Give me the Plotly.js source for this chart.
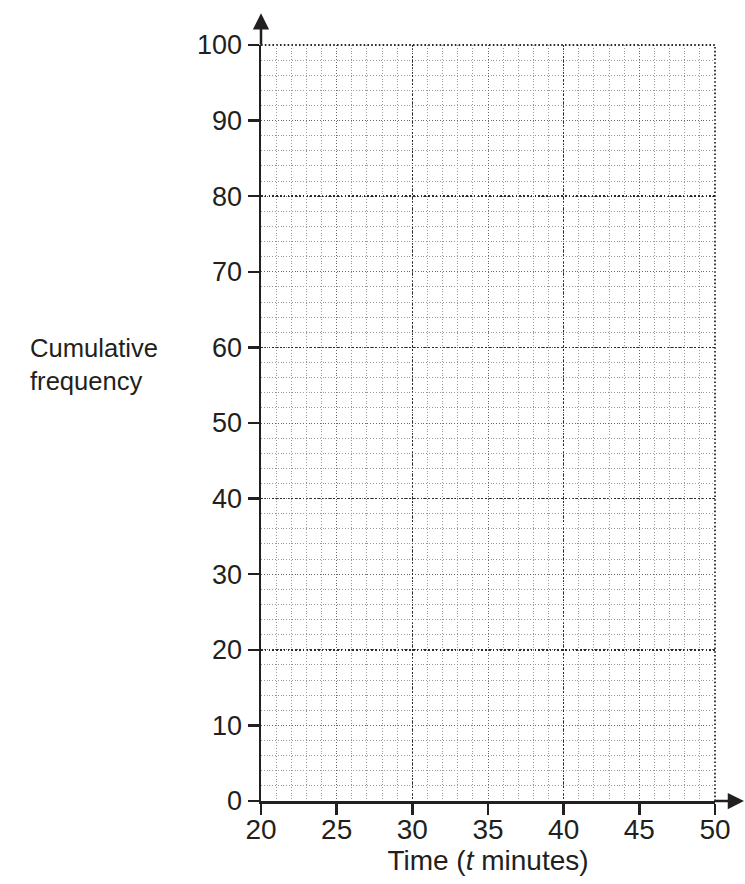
<!DOCTYPE html>
<html>
<head>
<meta charset="utf-8">
<script src="https://cdn.plot.ly/plotly-3.0.1.min.js"></script>
<style>html,body{margin:0;padding:0;background:#fff;}#chart{width:745px;height:884px;}</style>
</head>
<body>
<div id="chart"></div>
<script>
// Axis ranges and tick labels
const xRange = [20, 50];
const yRange = [0, 100];
const xTickVals = [20, 25, 30, 35, 40, 45, 50];
const yTickVals = [0, 10, 20, 30, 40, 50, 60, 70, 80, 90, 100];
const xMajorGrid = [20, 30, 40, 50];
const yMajorGrid = [0, 20, 40, 60, 80, 100];
const xMinorStep = 1;
const yMinorStep = 2;
const xTitle = 'Time (<i>t</i> minutes)';
const yTitleLines = ['Cumulative', 'frequency'];

const ink = '#231f20';
const fontFam = '"Liberation Sans", Arial, Helvetica, sans-serif';

const traces = [
  {x: [], y: [], type: 'scatter', mode: 'markers', xaxis: 'x', yaxis: 'y', showlegend: false, hoverinfo: 'skip'},
  {x: [], y: [], type: 'scatter', mode: 'markers', xaxis: 'x2', yaxis: 'y2', showlegend: false, hoverinfo: 'skip'}
];

const majorDash = '1.6px,2.2px';
const layout = {
  width: 745, height: 884,
  margin: {l: 261, r: 30, t: 45, b: 83, pad: 0},
  paper_bgcolor: '#fff', plot_bgcolor: '#fff',
  font: {family: fontFam, size: 27, color: ink},
  showlegend: false,
  xaxis: {
    range: xRange, tickmode: 'array', tickvals: xTickVals,
    ticks: 'outside', ticklen: 11, tickwidth: 2.5, tickcolor: ink,
    ticklabelstandoff: -9,
    showline: true, linewidth: 2.5, linecolor: ink, zeroline: false,
    showgrid: true, gridcolor: '#666', gridwidth: 1, griddash: '1px,1.8px',
    minor: {dtick: xMinorStep, tick0: xRange[0], showgrid: true, gridcolor: '#999', gridwidth: 1, griddash: '1px,1.8px', ticks: ''},
    tickfont: {size: 28, color: ink, family: fontFam},
    title: {text: xTitle, font: {size: 28, color: ink, family: fontFam}, standoff: 1},
    fixedrange: true
  },
  yaxis: {
    range: yRange, tickmode: 'array', tickvals: yTickVals,
    ticks: 'outside', ticklen: 11, tickwidth: 2.5, tickcolor: ink,
    showline: true, linewidth: 2.5, linecolor: ink, zeroline: false,
    showgrid: true, gridcolor: '#666', gridwidth: 1, griddash: '1px,1.8px',
    minor: {dtick: yMinorStep, tick0: yRange[0], showgrid: true, gridcolor: '#999', gridwidth: 1, griddash: '1px,1.8px', ticks: ''},
    tickfont: {size: 27, color: ink, family: fontFam},
    fixedrange: true
  },
  xaxis2: {
    range: xRange, overlaying: 'x', anchor: 'y', tickmode: 'array', tickvals: xMajorGrid,
    showticklabels: false, ticks: '', showline: false, zeroline: false,
    showgrid: true, gridcolor: '#2a2a2a', gridwidth: 1.6, griddash: majorDash, fixedrange: true
  },
  yaxis2: {
    range: yRange, overlaying: 'y', anchor: 'x', tickmode: 'array', tickvals: yMajorGrid,
    showticklabels: false, ticks: '', showline: false, zeroline: false,
    showgrid: true, gridcolor: '#2a2a2a', gridwidth: 1.6, griddash: majorDash, fixedrange: true
  },
  shapes: [
    {type: 'line', xref: 'paper', yref: 'paper', x0: 0, x1: 1, y0: 1, y1: 1, layer: 'below',
     line: {color: '#2a2a2a', width: 1.8, dash: majorDash}},
    {type: 'line', xref: 'paper', yref: 'paper', x0: 1, x1: 1, y0: 0, y1: 1, layer: 'below',
     line: {color: '#2a2a2a', width: 1.8, dash: majorDash}}
  ],
  annotations: [
    {xref: 'paper', yref: 'paper', x: 0, y: 1.042, ax: 0, ay: 33,
     showarrow: true, arrowhead: 2, arrowsize: 1.3, arrowwidth: 2.5, arrowcolor: ink, text: ''},
    {xref: 'paper', yref: 'paper', x: 1.0667, y: 0, ax: -32, ay: 0,
     showarrow: true, arrowhead: 2, arrowsize: 1.3, arrowwidth: 2.5, arrowcolor: ink, text: ''},
    {xref: 'paper', yref: 'y', x: (28 - 261) / 454, y: 57.7, xanchor: 'left', yanchor: 'middle', align: 'left',
     showarrow: false, text: yTitleLines.join('<br>'), font: {size: 25.6, color: ink, family: fontFam}}
  ]
};

Plotly.newPlot('chart', traces, layout, {staticPlot: true, displayModeBar: false});
</script>
</body>
</html>
